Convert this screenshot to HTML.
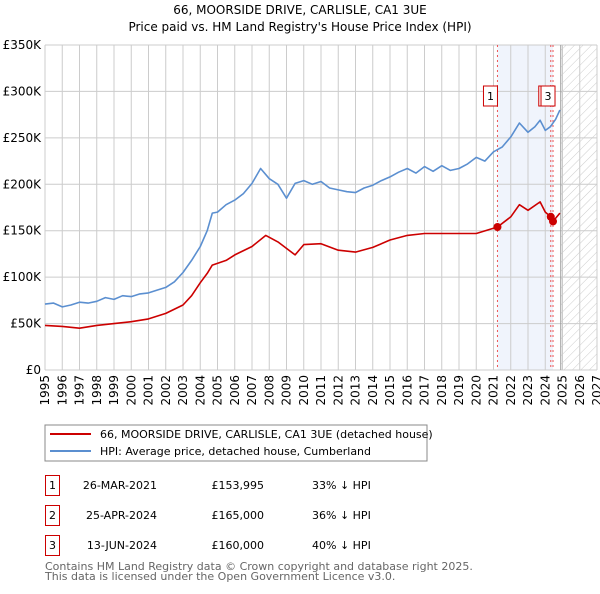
<!DOCTYPE html>
<html><head><meta charset="utf-8"><style>
body{margin:0;background:#fff;font-family:"DejaVu Sans","Liberation Sans",sans-serif;}
svg text{font-family:"DejaVu Sans","Liberation Sans",sans-serif;}
</style></head><body>
<svg id="c" width="600" height="590" xmlns="http://www.w3.org/2000/svg">
<defs><pattern id="hatch" width="6" height="6" patternUnits="userSpaceOnUse" patternTransform="rotate(45)"><line x1="0" y1="0" x2="0" y2="6" stroke="#ccc" stroke-width="1"/></pattern></defs>
<text x="300" y="14" text-anchor="middle" font-size="12">66, MOORSIDE DRIVE, CARLISLE, CA1 3UE</text>
<text x="300" y="31" text-anchor="middle" font-size="12">Price paid vs. HM Land Registry's House Price Index (HPI)</text>
<g id="plot"></g>
<rect x="45" y="425" width="382" height="36" fill="#fff" stroke="#888"/>
<line x1="50" y1="434" x2="91" y2="434" stroke="#cc0000" stroke-width="2"/>
<text x="100" y="438" font-size="11">66, MOORSIDE DRIVE, CARLISLE, CA1 3UE (detached house)</text>
<line x1="50" y1="451" x2="91" y2="451" stroke="#5b8fd0" stroke-width="2"/>
<text x="100" y="455" font-size="11">HPI: Average price, detached house, Cumberland</text>
<g font-size="11">
<rect x="45.5" y="475.5" width="14" height="20" fill="none" stroke="#cc0000"/><text x="52.5" y="489" text-anchor="middle">1</text>
<text x="157" y="489" text-anchor="end">26-MAR-2021</text>
<text x="264" y="489" text-anchor="end">£153,995</text>
<text x="312" y="489">33% ↓ HPI</text>
<rect x="45.5" y="505.5" width="14" height="20" fill="none" stroke="#cc0000"/><text x="52.5" y="519" text-anchor="middle">2</text>
<text x="157" y="519" text-anchor="end">25-APR-2024</text>
<text x="264" y="519" text-anchor="end">£165,000</text>
<text x="312" y="519">36% ↓ HPI</text>
<rect x="45.5" y="535.5" width="14" height="20" fill="none" stroke="#cc0000"/><text x="52.5" y="549" text-anchor="middle">3</text>
<text x="157" y="549" text-anchor="end">13-JUN-2024</text>
<text x="264" y="549" text-anchor="end">£160,000</text>
<text x="312" y="549">40% ↓ HPI</text>
</g>
<text x="45" y="570" font-size="11" fill="#666">Contains HM Land Registry data © Crown copyright and database right 2025.</text>
<text x="45" y="580" font-size="11" fill="#666">This data is licensed under the Open Government Licence v3.0.</text>
</svg>
<script>
const hpiYears=[1995,1995.5,1996,1996.5,1997,1997.5,1998,1998.5,1999,1999.5,2000,2000.5,2001,2001.5,2002,2002.5,2003,2003.5,2004,2004.4,2004.7,2005,2005.5,2006,2006.5,2007,2007.5,2008,2008.5,2009,2009.5,2010,2010.5,2011,2011.5,2012,2012.5,2013,2013.5,2014,2014.5,2015,2015.5,2016,2016.5,2017,2017.5,2018,2018.5,2019,2019.5,2020,2020.5,2021,2021.5,2022,2022.5,2023,2023.4,2023.7,2024,2024.3,2024.6,2024.85];
const hpiValues=[71,72,68,70,73,72,74,78,76,80,79,82,83,86,89,95,105,118,133,150,169,170,178,183,190,201,217,206,200,185,201,204,200,203,196,194,192,191,196,199,204,208,213,217,212,219,214,220,215,217,222,229,225,235,240,251,266,256,262,269,258,262,270,280];
const ppYears=[1995,1996,1997,1998,1999,2000,2001,2002,2003,2003.5,2004,2004.4,2004.7,2005.5,2006,2007,2007.8,2008.5,2009.5,2010,2011,2012,2013,2014,2015,2016,2017,2018,2019,2020,2021.23,2022,2022.5,2023,2023.7,2024,2024.32,2024.45,2024.85];
const ppValues=[48,47,45,48,50,52,55,61,70,80,94,104,113,118,124,133,145,138,124,135,136,129,127,132,140,145,147,147,147,147,154,165,178,172,181,170,165,160,169];
const saleYears=[2021.23,2024.32,2024.45];
const saleValues=[153.995,165,160];
const saleLabels=["1","2","3"];
const yTicks=[0,50,100,150,200,250,300,350];
const xTicks=[1995,1996,1997,1998,1999,2000,2001,2002,2003,2004,2005,2006,2007,2008,2009,2010,2011,2012,2013,2014,2015,2016,2017,2018,2019,2020,2021,2022,2023,2024,2025,2026,2027];

const NS="http://www.w3.org/2000/svg";
const X0=45,X1=597,Y0=370,Y1=45;
function xs(v){return X0+(v-1995)/(2027-1995)*(X1-X0);}
function ys(v){return Y0-v/350*(Y0-Y1);}
const g=document.getElementById('plot');
function mk(t,a){const e=document.createElementNS(NS,t);for(const k in a)e.setAttribute(k,a[k]);g.appendChild(e);return e;}
let e;
e=mk('rect',{x:xs(saleYears[0]),y:Y1,width:xs(saleYears[2])-xs(saleYears[0]),height:Y0-Y1,fill:'#f0f4fc'});


e=mk('rect',{x:xs(2024.9),y:Y1,width:X1-xs(2024.9),height:Y0-Y1,fill:'url(#hatch)'});


yTicks.forEach(t=>{
 e=mk('line',{x1:X0,x2:X1,y1:ys(t),y2:ys(t),stroke:'#ccc'});
 
 
 e=mk('text',{x:X0-4,y:ys(t)+4,'text-anchor':'end','font-size':12});
 e.textContent='£'+t+(t?'K':'');
 
 
});
xTicks.forEach(t=>{
 e=mk('line',{x1:xs(t),x2:xs(t),y1:Y1,y2:Y0,stroke:'#ccc'});
 
 
 const tx=xs(t)+4, ty=Y0+5;
 e=mk('text',{x:tx,y:ty,'text-anchor':'end','font-size':12,transform:'rotate(-90 '+tx+' '+ty+')'});
 e.textContent=t;
 
 
});
e=mk('line',{x1:xs(2024.9),x2:xs(2024.9),y1:Y1,y2:Y0,stroke:'#999'});


saleYears.forEach((s,i)=>{
 e=mk('line',{x1:xs(s),x2:xs(s),y1:Y1,y2:Y0,stroke:'#ee5555','stroke-dasharray':'2,3'});
 
 
});
function path(xsArr,vs,col,name){
 let d=xsArr.map((x,i)=>(i?'L':'M')+xs(x).toFixed(1)+','+ys(vs[i]).toFixed(1)).join('');
 e=mk('path',{d:d,fill:'none',stroke:col,'stroke-width':1.6,'stroke-linejoin':'round'});
 
 
}
path(hpiYears,hpiValues,'#5b8fd0','hpi-line');
path(ppYears,ppValues,'#cc0000','price-paid-line');
saleYears.forEach((s,i)=>{
 e=mk('circle',{cx:xs(s),cy:ys(saleValues[i]),r:4,fill:'#cc0000'});
 
 
});
const bx=[xs(saleYears[0])-7,xs(saleYears[1])-5,xs(saleYears[2])-5];
saleLabels.forEach((l,i)=>{
 e=mk('rect',{x:bx[i]-7,y:86,width:14,height:20,fill:'#fff',stroke:'#cc0000'});
 
 
 e=mk('text',{x:bx[i],y:100,'text-anchor':'middle','font-size':11});
 e.textContent=l;
 
 
});
</script>
</body></html>
